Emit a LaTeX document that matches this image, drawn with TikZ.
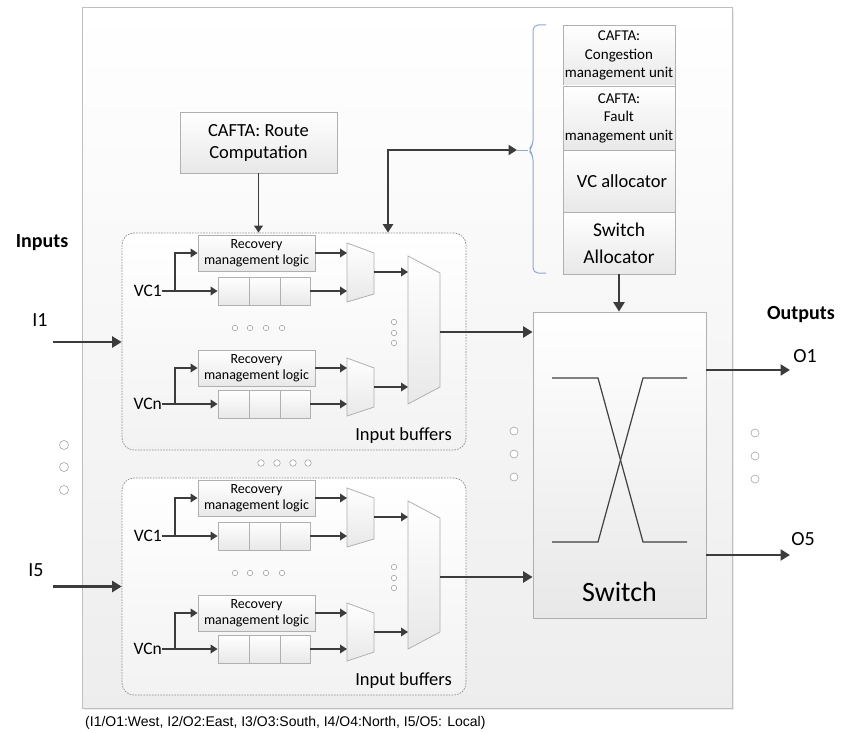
\documentclass[tikz,border=0pt]{standalone}
\usepackage{fontspec}
\setmainfont{Carlito}
\newfontfamily\capfont{Liberation Sans}
\usetikzlibrary{arrows.meta,shadows,calc}
\definecolor{ink}{HTML}{3C3C3C}
\definecolor{edgec}{HTML}{B0B0B0}
\definecolor{bracecol}{HTML}{8FAACF}
\newcommand\fRoute{\fontsize{18.5}{22}\selectfont}
\newcommand\fStack{\fontsize{15}{18.5}\selectfont}
\newcommand\fVCA{\fontsize{18.5}{22}\selectfont}
\newcommand\fSWA{\fontsize{19.5}{27}\selectfont}
\newcommand\fRec{\fontsize{14}{16.5}\selectfont}
\newcommand\fVClbl{\fontsize{17.5}{20}\selectfont}
\newcommand\fIB{\fontsize{18.5}{22}\selectfont}
\newcommand\fIO{\fontsize{20}{24}\selectfont}
\newcommand\fSw{\fontsize{28}{32}\selectfont}
\newcommand\fCap{\fontsize{14}{16}\selectfont}
\begin{document}
\begin{tikzpicture}[x=1pt,y=-1pt,
  box/.style={draw=edgec, line width=0.8pt, top color=white, bottom color=black!9,
    drop shadow={opacity=0.18,shadow xshift=1.2pt,shadow yshift=-1.2pt},
    inner sep=0pt, align=center, text=black},
  mainbox/.style={draw=black!25, line width=1pt, top color=white, bottom color=black!7,
    drop shadow={opacity=0.15,shadow xshift=1.5pt,shadow yshift=-1.5pt}, inner sep=0pt},
  grp/.style={draw=black!45, line width=0.7pt, dash pattern=on 1.6pt off 1.2pt,
    rounded corners=12pt, top color=white, bottom color=black!5, inner sep=0pt},
  muxst/.style={draw=edgec, line width=0.8pt, top color=white, bottom color=black!9},
  arr/.style={draw=ink, line width=2.8pt, -{Triangle[length=9.5pt,width=11pt]}},
  darr/.style={draw=ink, line width=2.3pt, {Triangle[length=8.5pt,width=10pt]}-{Triangle[length=8.5pt,width=10pt]}},
  marr/.style={draw=ink, line width=1.8pt, -{Triangle[length=7pt,width=8.5pt]}},
  dotc/.style={circle, draw=black!35, fill=white, line width=0.6pt, inner sep=0pt, minimum size=#1},
  lbl/.style={inner sep=0pt, text=black}
]
\useasboundingbox (0,0) rectangle (843,733);
\fill[white] (0,0) rectangle (843,733);

% router body
\node[mainbox, minimum width=650pt, minimum height=700pt] (router) at (407,358) {};

% route computation
\node[box, minimum width=157pt, minimum height=61pt, font=\fRoute] (rc) at (258.5,142.5) {CAFTA: Route\\Computation};

% right stack
\node[box, minimum width=112pt, minimum height=61pt, font=\fStack] (cong) at (619,55.5) {CAFTA:\\Congestion\\management unit};
\node[box, minimum width=112pt, minimum height=64pt, font=\fStack] (fault) at (619,118) {CAFTA:\\Fault\\management unit};
\node[box, minimum width=112pt, minimum height=62pt, font=\fVCA] (vca) at (619,181) {\hspace*{6pt}VC allocator};
\node[box, minimum width=112pt, minimum height=62pt, font=\fSWA] (swa) at (619,243) {Switch\\Allocator};

% brace
\draw[bracecol, line width=1pt, rounded corners=5pt]
  (546,25) -- (533,25) -- (533,145) -- (528,150) -- (533,155) -- (533,273) -- (546,273);
\coordinate (brtip) at (517,150);
\coordinate (brpt) at (528,150);
\draw[bracecol, line width=1pt] (brtip) -- (brpt);

% switch
\node[box, minimum width=173pt, minimum height=306pt] (sw) at (619.5,465) {};
\node[lbl, font=\fSw] (swlbl) at (619.5,592) {Switch};
\draw[black!75, line width=1.2pt] (552,378) -- (598,378) -- (643,542) -- (687,542);
\draw[black!75, line width=1.2pt] (552,542) -- (598,542) -- (643,378) -- (687,378);
\draw[arr] (swa.south) -- (swa.south |- sw.north);

% input groups
\foreach \g/\dy in {1/0,2/245}{
\begin{scope}[shift={(0,\dy)}]
  \node[grp, minimum width=344pt, minimum height=217pt] (grp\g) at (294,341.5) {};
  \node[lbl, font=\fIB, anchor=east] (ib\g) at (452,436) {Input buffers};
  % VC1 lane
  \node[box, minimum width=117pt, minimum height=36pt, font=\fRec] (reca\g) at (256.5,253) {Recovery\\management logic};
  \node[box, minimum width=92pt, minimum height=28pt] (qa\g) at (264,291) {};
  \draw[edgec, line width=0.8pt] (249,277) -- (249,305) (280,277) -- (280,305);
  \node[lbl, font=\fVClbl, anchor=east] (vca\g) at (162,291) {VC1};
  \coordinate (bra\g) at (175,291);
  \draw[ink, line width=1.8pt] (vca\g.east) -- (bra\g);
  \draw[marr] (bra\g) |- (reca\g.west);
  \draw[marr] (bra\g) -- (qa\g.west);
  \draw[muxst] (347,243) -- (374,253) -- (374,294) -- (347,302) -- cycle;
  \coordinate (mai\g) at (347,253);
  \coordinate (maj\g) at (347,291);
  \coordinate (mao\g) at (374,272);
  \draw[marr] (reca\g.east) -- (mai\g);
  \draw[marr] (qa\g.east) -- (maj\g);
  % VCn lane
  \node[box, minimum width=117pt, minimum height=36pt, font=\fRec] (recb\g) at (256.5,368) {Recovery\\management logic};
  \node[box, minimum width=92pt, minimum height=28pt] (qb\g) at (264,404) {};
  \draw[edgec, line width=0.8pt] (249,390) -- (249,418) (280,390) -- (280,418);
  \node[lbl, font=\fVClbl, anchor=east] (vcb\g) at (162,404) {VCn};
  \coordinate (brb\g) at (175,404);
  \draw[ink, line width=1.8pt] (vcb\g.east) -- (brb\g);
  \draw[marr] (brb\g) |- (recb\g.west);
  \draw[marr] (brb\g) -- (qb\g.west);
  \draw[muxst] (347,358) -- (374,368) -- (374,407) -- (347,416) -- cycle;
  \coordinate (mbi\g) at (347,368);
  \coordinate (mbj\g) at (347,404);
  \coordinate (mbo\g) at (374,387);
  \draw[marr] (recb\g.east) -- (mbi\g);
  \draw[marr] (qb\g.east) -- (mbj\g);
  % big mux
  \draw[muxst] (408,256) -- (440,273) -- (440,387) -- (408,404) -- cycle;
  \coordinate (bai\g) at (408,272);
  \coordinate (bbi\g) at (408,387);
  \coordinate (bo\g) at (440,332);
  \draw[marr] (mao\g) -- (bai\g);
  \draw[marr] (mbo\g) -- (bbi\g);
  \draw[arr] (bo\g) -- (bo\g -| sw.west);
  % dots
  \foreach \x [count=\k] in {235,250,266,282}{\node[dotc=5.5pt] (hd\g\k) at (\x,328) {};}
  \foreach \y [count=\k] in {322,333,343}{\node[dotc=5.5pt] (vd\g\k) at (394,\y) {};}
\end{scope}
}

% control arrows
\draw[marr] (rc.south) -- (rc.south |- grp1.north);
\coordinate (ctl) at (388,150);
\draw[darr] (ctl |- grp1.north) -- (ctl) -- (brtip);

% inputs
\node[lbl, font=\fIO\bfseries] (inlbl) at (42,243) {Inputs};
\node[lbl, font=\fIO] (i1lbl) at (40,320) {I1};
\node[lbl, font=\fIO] (i5lbl) at (36,570) {I5};
\coordinate (in1) at (53,342);
\coordinate (in5) at (53,586.5);
\draw[arr] (in1) -- (in1 -| grp1.west);
\draw[arr] (in5) -- (in5 -| grp2.west);

% outputs
\node[lbl, font=\fIO\bfseries, anchor=west] (outlbl) at (767,315) {Outputs};
\node[lbl, font=\fIO] (o1lbl) at (805,356) {O1};
\node[lbl, font=\fIO] (o5lbl) at (803,539) {O5};
\coordinate (o1) at (790,370);
\coordinate (o5) at (790,555);
\draw[arr] (o1 -| sw.east) -- (o1);
\draw[arr] (o5 -| sw.east) -- (o5);

% dots
\foreach \y [count=\k] in {445,467,490}{\node[dotc=9pt] (ld\k) at (64,\y) {};}
\foreach \x [count=\k] in {261,277,293,308}{\node[dotc=6.5pt] (md\k) at (\x,463) {};}
\foreach \y [count=\k] in {431,454,477}{\node[dotc=8pt] (sd\k) at (514,\y) {};}
\foreach \y [count=\k] in {433,456,479}{\node[dotc=8pt] (rd\k) at (755,\y) {};}

% caption
\node[lbl, font=\capfont\fCap, anchor=west] (cap) at (85,723) {(I1/O1:West, I2/O2:East, I3/O3:South, I4/O4:North, I5/O5: Local)};
\end{tikzpicture}
\end{document}
